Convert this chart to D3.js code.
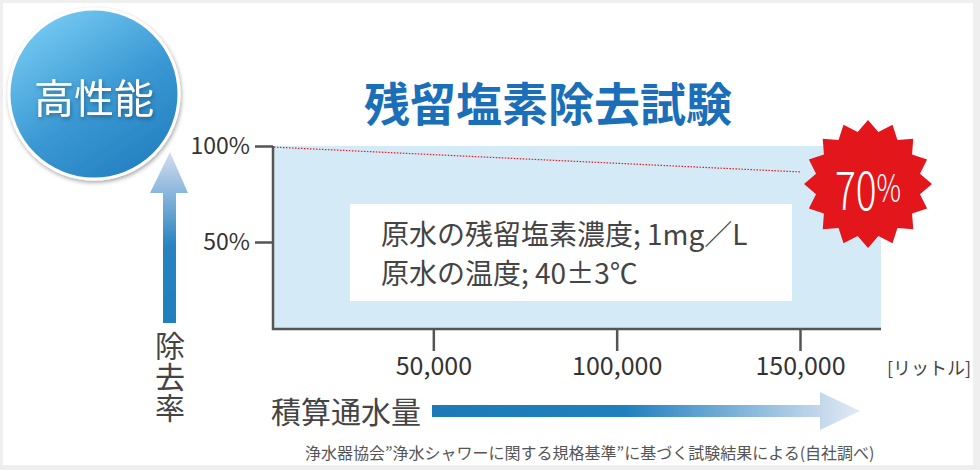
<!DOCTYPE html>
<html>
<head>
<meta charset="utf-8">
<script src="https://cdn.jsdelivr.net/npm/d3@7"></script>
<style>
  body { margin: 0; background: #efefef; }
  svg { display: block; }
  text { font-family: "Noto Sans CJK JP", "Noto Sans", sans-serif; }
</style>
</head>
<body>
<script>
// Chart data
var xTicks = [50000, 100000, 150000];
var yTicks = [50, 100];
var lineLiters = [0, 150000];
var lineRemoval = [100, 86.5];
var finalLabel = "70";
var noteLines = ["原水の残留塩素濃度; 1mg／L", "原水の温度; 40±3℃"];
var titleText = "残留塩素除去試験";
var badgeText = "高性能";
var yTitle = "除去率";
var xTitle = "積算通水量";
var unitText = "[リットル]";
var footText = "浄水器協会”浄水シャワーに関する規格基準”に基づく試験結果による(自社調べ)";

var svgWidth = 980;
var svgHeight = 470;

// plot frame
var plot = { left: 273, right: 881, top: 146, bottom: 329 };

var svg = d3.select("body")
  .append("svg")
  .attr("width", svgWidth)
  .attr("height", svgHeight);

var defs = svg.append("defs");

// card
svg.append("rect")
  .attr("x", 3).attr("y", 3)
  .attr("width", 970).attr("height", 462)
  .attr("fill", "#fff");

// gradients
var circGrad = defs.append("linearGradient")
  .attr("id", "circGrad")
  .attr("x1", "0.2").attr("y1", "0.05").attr("x2", "0.8").attr("y2", "0.95");
circGrad.append("stop").attr("offset", 0).attr("stop-color", "#74c9f1");
circGrad.append("stop").attr("offset", 0.55).attr("stop-color", "#3a98d3");
circGrad.append("stop").attr("offset", 1).attr("stop-color", "#2580c1");

var upGrad = defs.append("linearGradient")
  .attr("id", "upGrad")
  .attr("gradientUnits", "userSpaceOnUse")
  .attr("x1", 0).attr("y1", 152).attr("x2", 0).attr("y2", 323);
upGrad.append("stop").attr("offset", 0).attr("stop-color", "#d6def0");
upGrad.append("stop").attr("offset", 0.55).attr("stop-color", "#2683c0");
upGrad.append("stop").attr("offset", 1).attr("stop-color", "#1f80bc");

var rightGrad = defs.append("linearGradient")
  .attr("id", "rightGrad")
  .attr("gradientUnits", "userSpaceOnUse")
  .attr("x1", 432).attr("y1", 0).attr("x2", 860).attr("y2", 0);
rightGrad.append("stop").attr("offset", 0).attr("stop-color", "#1b7ab7");
rightGrad.append("stop").attr("offset", 0.45).attr("stop-color", "#2080bd");
rightGrad.append("stop").attr("offset", 1).attr("stop-color", "#e4e9f5");

var shadow = defs.append("filter").attr("id", "shadow")
  .attr("x", "-20%").attr("y", "-20%").attr("width", "140%").attr("height", "140%");
shadow.append("feDropShadow")
  .attr("dx", 1).attr("dy", 2).attr("stdDeviation", 2)
  .attr("flood-color", "#000").attr("flood-opacity", 0.35);

defs.append("clipPath").attr("id", "plotClip")
  .append("rect")
  .attr("x", plot.left).attr("y", plot.top)
  .attr("width", plot.right - plot.left).attr("height", plot.bottom - plot.top);

// scales
var xScale = d3.scaleLinear().domain([0, 150000]).range([250, 800]);
var yScale = d3.scaleLinear().domain([0, 100]).range([338, 146]);

// badge circle
svg.append("circle")
  .attr("cx", 94).attr("cy", 94).attr("r", 85)
  .attr("fill", "url(#circGrad)")
  .attr("stroke", "#fff").attr("stroke-width", 3)
  .attr("filter", "url(#shadow)");
svg.append("text")
  .attr("x", 94).attr("y", 96)
  .attr("text-anchor", "middle")
  .attr("dominant-baseline", "central")
  .attr("font-size", 40)
  .attr("fill", "#fff")
  .attr("filter", "url(#shadow)")
  .text(badgeText);

// title
svg.append("text")
  .attr("x", 548).attr("y", 101)
  .attr("text-anchor", "middle")
  .attr("dominant-baseline", "central")
  .attr("font-size", 46)
  .attr("font-weight", "bold")
  .attr("fill", "#1b6fb8")
  .text(titleText);

// plot background
svg.append("rect")
  .attr("x", plot.left).attr("y", plot.top)
  .attr("width", plot.right - plot.left).attr("height", plot.bottom - plot.top)
  .attr("fill", "#d4eaf6");

// removal rate line
var drawLine = d3.line()
  .x(function(d, i) { return xScale(lineLiters[i]); })
  .y(function(d) { return yScale(d); });

svg.append("path")
  .attr("d", drawLine(lineRemoval))
  .attr("clip-path", "url(#plotClip)")
  .attr("fill", "none")
  .attr("stroke", "#e8161e")
  .attr("stroke-width", 1.2)
  .attr("stroke-dasharray", "1.5,1.5");

// note box
svg.append("rect")
  .attr("x", 350).attr("y", 204)
  .attr("width", 442).attr("height", 97)
  .attr("fill", "#fff");
svg.selectAll(".note")
  .data(noteLines)
  .enter().append("text")
  .attr("class", "note")
  .attr("x", 381)
  .attr("y", function(d, i) { return 233 + i * 39; })
  .attr("dominant-baseline", "central")
  .attr("font-size", 28)
  .attr("fill", "#444")
  .text(function(d) { return d; });

// axes
var leftAxis = d3.axisLeft(yScale)
  .tickValues(yTicks)
  .tickFormat(function(d) { return d + "%"; })
  .tickSize(18)
  .tickPadding(5);

svg.append("g")
  .attr("transform", "translate(" + plot.left + ",0)")
  .call(leftAxis)
  .call(function(g) { g.select(".domain").remove(); })
  .call(function(g) {
    g.selectAll("line").attr("stroke", "#555").attr("stroke-width", 2.5);
    g.selectAll("text")
      .attr("font-family", "Roboto, sans-serif")
      .attr("font-size", 23)
      .attr("fill", "#333");
  });

var bottomAxis = d3.axisBottom(xScale)
  .tickValues(xTicks)
  .tickFormat(d3.format(","))
  .tickSize(22)
  .tickPadding(6);

svg.append("g")
  .attr("transform", "translate(0," + plot.bottom + ")")
  .call(bottomAxis)
  .call(function(g) { g.select(".domain").remove(); })
  .call(function(g) {
    g.selectAll("line").attr("stroke", "#555").attr("stroke-width", 2.5);
    g.selectAll("text")
      .attr("font-family", "Roboto, sans-serif")
      .attr("font-size", 25)
      .attr("fill", "#333");
  });

// axis frame lines
svg.append("path")
  .attr("d", "M" + plot.left + "," + plot.top + "V" + plot.bottom + "H" + plot.right)
  .attr("fill", "none")
  .attr("stroke", "#555")
  .attr("stroke-width", 2.5);

// burst badge with the end value
var burstPts = d3.range(32).map(function(i) {
  var a = i * Math.PI / 16 - Math.PI / 2;
  var r = i % 2 === 0 ? 64 : 53;
  return [Math.cos(a) * r, Math.sin(a) * r];
});
var burst = svg.append("g").attr("transform", "translate(868,184)");
burst.append("path")
  .attr("d", d3.line()(burstPts) + "Z")
  .attr("fill", "#e3161c");
var burstText = burst.append("text")
  .attr("x", 0).attr("y", 2)
  .attr("text-anchor", "middle")
  .attr("dominant-baseline", "central")
  .attr("transform", "scale(0.72,1)")
  .attr("font-family", "Roboto, sans-serif")
  .attr("font-weight", 300)
  .attr("fill", "#fff");
burstText.append("tspan").attr("font-size", 54).text(finalLabel);
burstText.append("tspan").attr("font-size", 38).text("%");

// up arrow and vertical y title
svg.append("path")
  .attr("d", "M170,152L188,193L176,193L176,323L163,323L163,193L150,193Z")
  .attr("fill", "url(#upGrad)");
svg.append("text")
  .attr("x", 170).attr("y", 331)
  .style("writing-mode", "vertical-rl")
  .attr("font-size", 30)
  .attr("letter-spacing", 1)
  .attr("fill", "#444")
  .text(yTitle);

// right arrow and x title
svg.append("path")
  .attr("d", "M432,405H820V392L860,411L820,430V417H432Z")
  .attr("fill", "url(#rightGrad)");
svg.append("text")
  .attr("x", 271).attr("y", 410)
  .attr("dominant-baseline", "central")
  .attr("font-size", 30)
  .attr("fill", "#444")
  .text(xTitle);

// unit
svg.append("text")
  .attr("x", 887).attr("y", 367)
  .attr("dominant-baseline", "central")
  .attr("font-size", 18)
  .attr("fill", "#444")
  .text(unitText);

// footnote
svg.append("text")
  .attr("x", 305).attr("y", 452)
  .attr("dominant-baseline", "central")
  .attr("font-size", 16)
  .attr("fill", "#555")
  .text(footText);
</script>
</body>
</html>
